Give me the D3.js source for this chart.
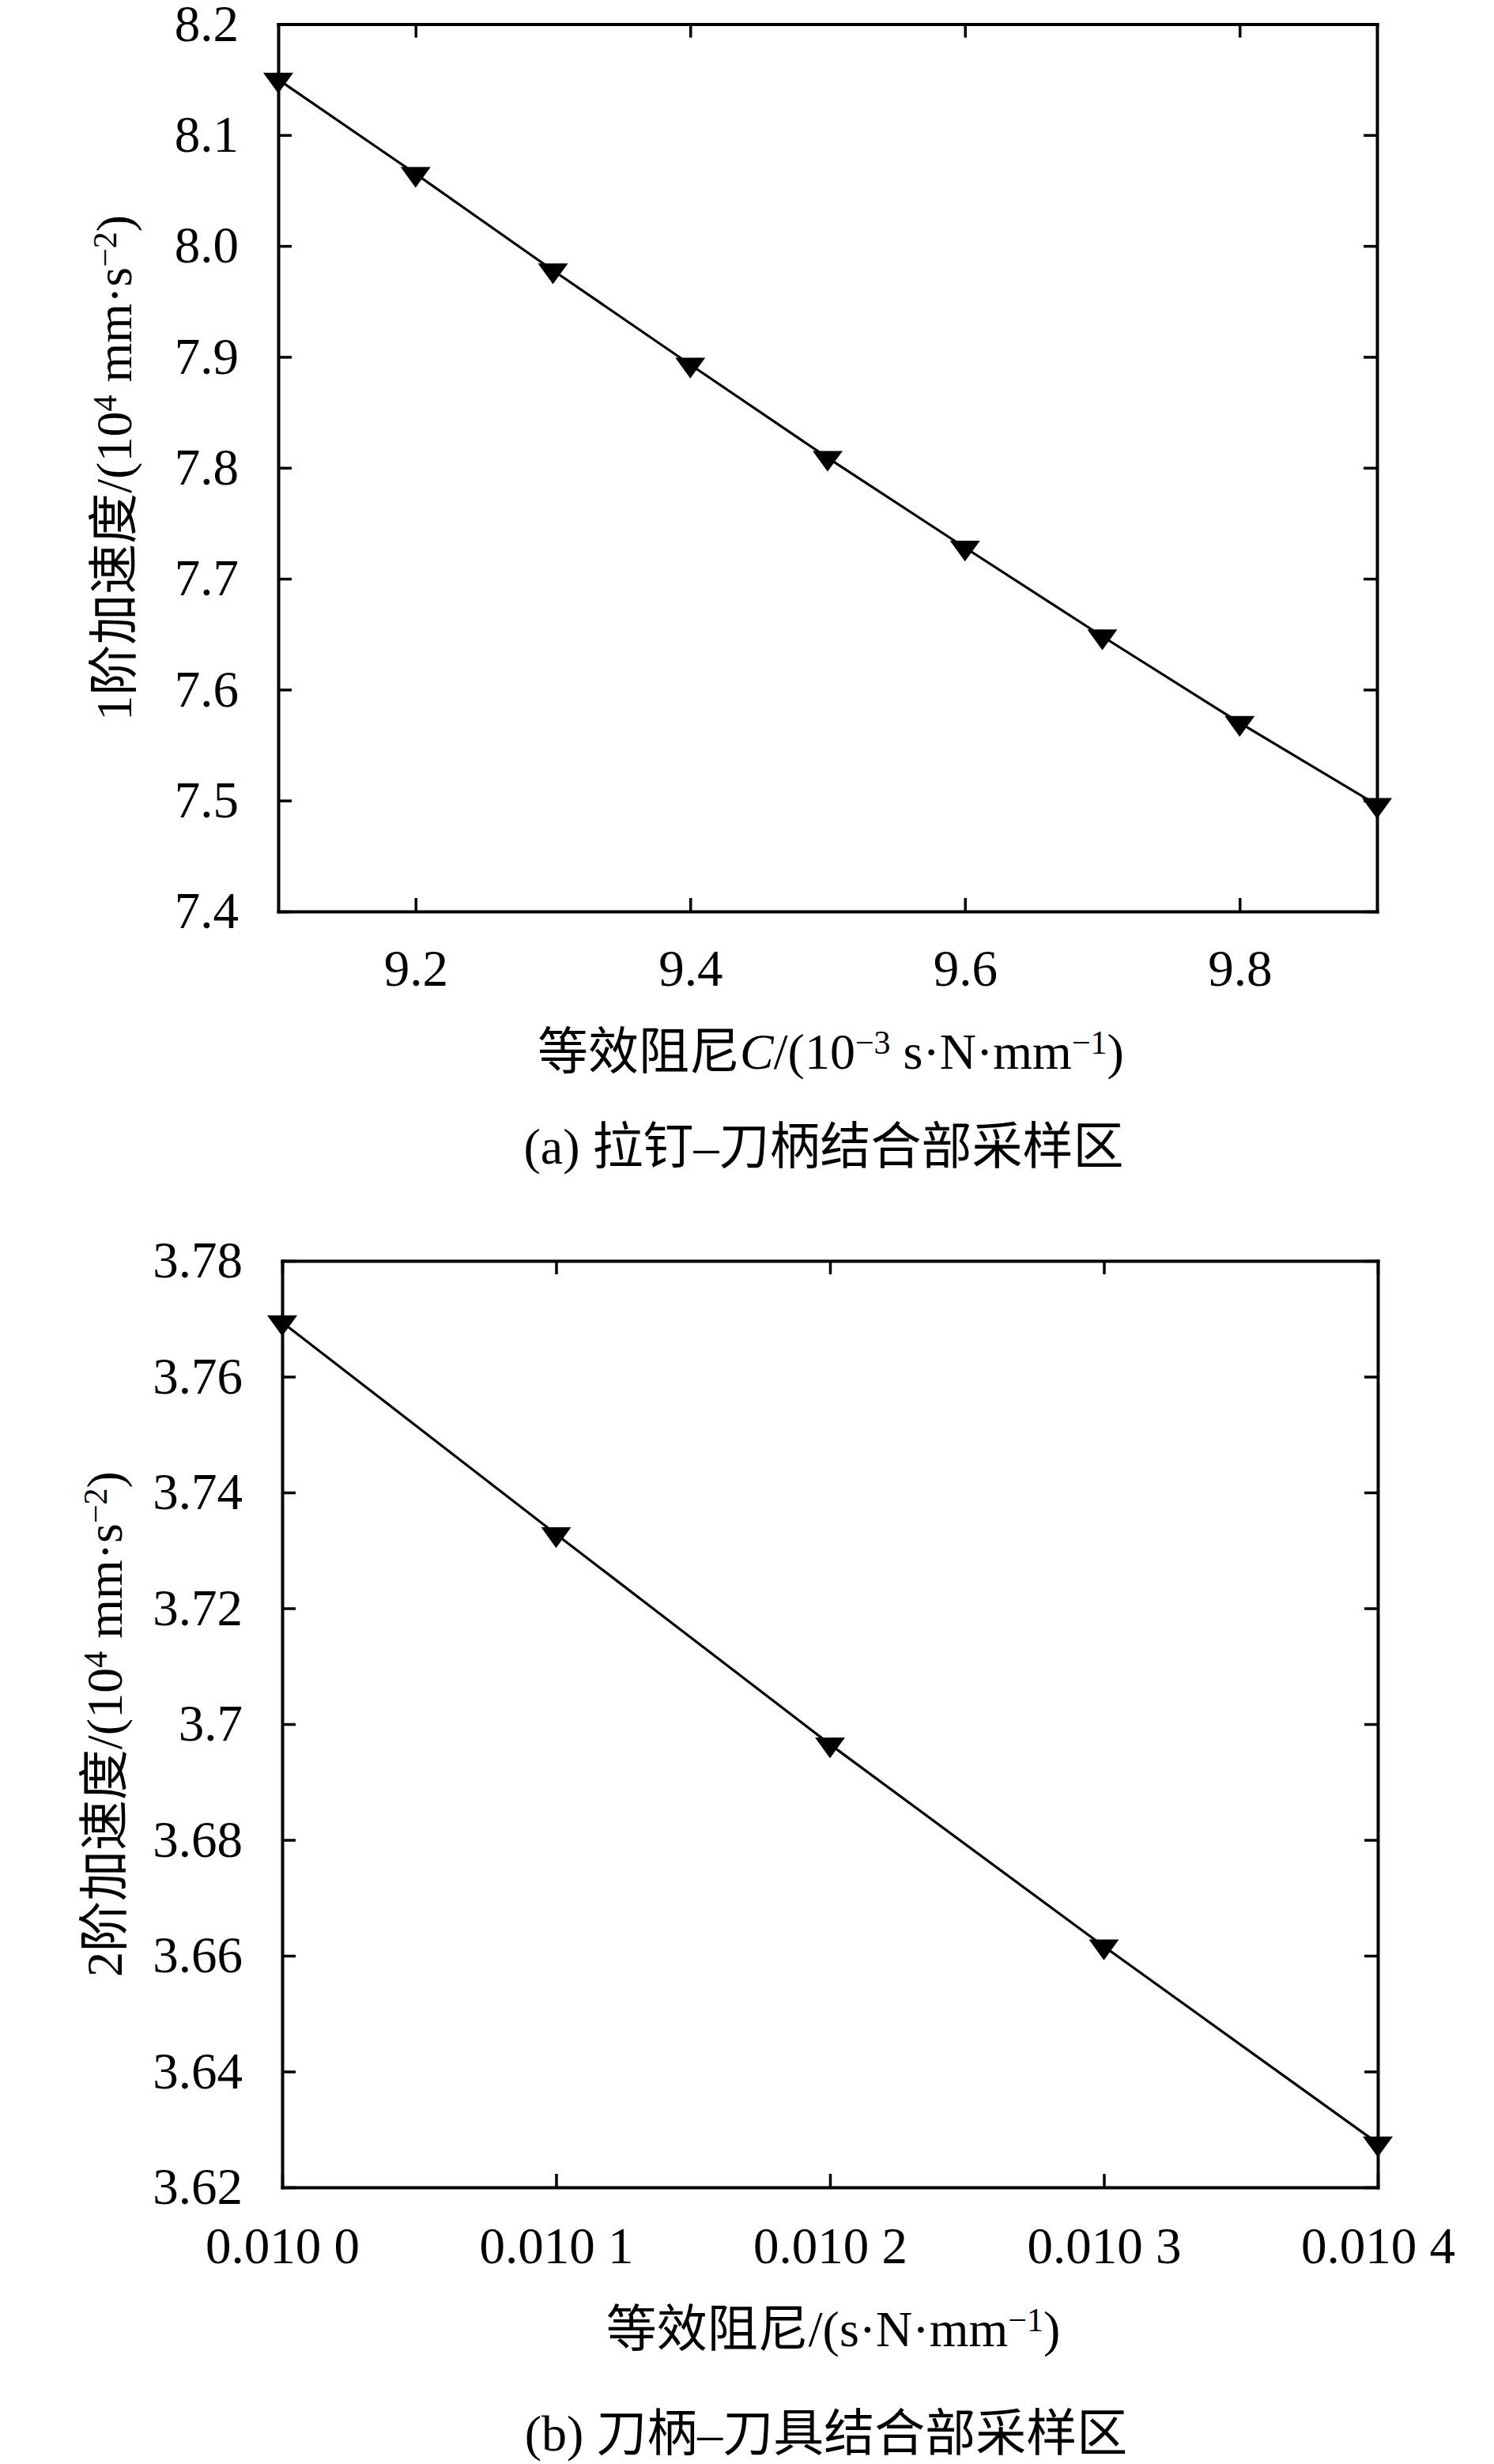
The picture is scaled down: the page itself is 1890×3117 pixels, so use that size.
<!DOCTYPE html>
<html>
<head>
<meta charset="utf-8">
<script src="https://cdn.jsdelivr.net/npm/d3@7"></script>
<style>
  body { margin: 0; background: #fff; }
  svg { display: block; }
  text { font-family: "Liberation Serif", "Noto Sans CJK SC", serif; fill: #000; }
</style>
</head>
<body>
<div id="chart"></div>
<script>
// (a) 拉钉-刀柄结合部采样区
const dampA = [9.1, 9.2, 9.3, 9.4, 9.5, 9.6, 9.7, 9.8, 9.9];
const accelA = [8.150, 8.065, 7.978, 7.893, 7.809, 7.728, 7.648, 7.570, 7.496];
const xTicksA = [9.2, 9.4, 9.6, 9.8];
const xTickLabelsA = ['9.2', '9.4', '9.6', '9.8'];
const yTicksA = [7.4, 7.5, 7.6, 7.7, 7.8, 7.9, 8.0, 8.1, 8.2];
const yTickLabelsA = ['7.4', '7.5', '7.6', '7.7', '7.8', '7.9', '8.0', '8.1', '8.2'];

// (b) 刀柄-刀具结合部采样区
const dampB = [0.0100, 0.0101, 0.0102, 0.0103, 0.0104];
const accelB = [3.7694, 3.7328, 3.6965, 3.6616, 3.6276];
const xTicksB = [0.0100, 0.0101, 0.0102, 0.0103, 0.0104];
const xTickLabelsB = ['0.010 0', '0.010 1', '0.010 2', '0.010 3', '0.010 4'];
const yTicksB = [3.62, 3.64, 3.66, 3.68, 3.70, 3.72, 3.74, 3.76, 3.78];
const yTickLabelsB = ['3.62', '3.64', '3.66', '3.68', '3.7', '3.72', '3.74', '3.76', '3.78'];

const svg = d3.select('#chart').append('svg')
    .attr('width', 1890)
    .attr('height', 3117);

// hàm phụ: thêm chữ có chỉ số trên
function richText(sel, parts) {
    parts.forEach(p => {
        const t = sel.append('tspan').text(p.t);
        if (p.sup) t.attr('baseline-shift', '45%').attr('font-size', 42);
        if (p.it) t.attr('font-style', 'italic');
    });
}

function drawPanel(cfg) {
    const x = d3.scaleLinear().domain(cfg.xDomain).range([cfg.left, cfg.right]);
    const y = d3.scaleLinear().domain(cfg.yDomain).range([cfg.bottom, cfg.top]);
    const g = svg.append('g');

    // trục trái có nhãn
    const yl = g.append('g')
        .attr('transform', `translate(${cfg.left},0)`)
        .call(d3.axisLeft(y).tickValues(cfg.yTicks)
            .tickFormat((d, i) => cfg.yLabels[i])
            .tickSizeInner(-17).tickSizeOuter(0).tickPadding(50));
    yl.selectAll('text').attr('font-size', 65).attr('font-family', null);

    // trục phải, trên (chỉ vạch)
    g.append('g')
        .attr('transform', `translate(${cfg.right},0)`)
        .call(d3.axisRight(y).tickValues(cfg.yTicks).tickFormat('')
            .tickSizeInner(-17).tickSizeOuter(0));
    g.append('g')
        .attr('transform', `translate(0,${cfg.top})`)
        .call(d3.axisTop(x).tickValues(cfg.xTicks).tickFormat('')
            .tickSizeInner(-17).tickSizeOuter(0));

    // trục dưới có nhãn
    const xl = g.append('g')
        .attr('transform', `translate(0,${cfg.bottom})`)
        .call(d3.axisBottom(x).tickValues(cfg.xTicks)
            .tickFormat((d, i) => cfg.xLabels[i])
            .tickSizeInner(-17).tickSizeOuter(0));
    xl.selectAll('text').attr('font-size', 65).attr('font-family', null)
        .attr('y', cfg.xLabelGap).attr('dy', 0);

    g.selectAll('.domain').attr('stroke', '#000').attr('stroke-width', 4).attr('stroke-linecap', 'square');
    g.selectAll('.tick line').attr('stroke', '#000').attr('stroke-width', 3.5);

    // đường dữ liệu
    const pts = cfg.xs.map((v, i) => [v, cfg.ys[i]]);
    g.append('path')
        .datum(pts)
        .attr('fill', 'none')
        .attr('stroke', '#000')
        .attr('stroke-width', 3.2)
        .attr('d', d3.line().x(d => x(d[0])).y(d => y(d[1])));

    // ký hiệu tam giác úp
    g.append('g').selectAll('path')
        .data(pts)
        .enter().append('path')
        .attr('transform', d => `translate(${x(d[0])},${y(d[1])})`)
        .attr('d', 'M-19,-8.7L19,-8.7L0,17.5Z')
        .attr('fill', '#000');

    // nhãn trục x
    const cx = (cfg.left + cfg.right) / 2;
    const tx = g.append('text')
        .attr('x', cx + 4).attr('y', cfg.xTitleY)
        .attr('text-anchor', 'middle').attr('font-size', 64);
    richText(tx, cfg.xTitle);

    // nhãn trục y
    const cy = (cfg.top + cfg.bottom) / 2;
    const ty = g.append('text')
        .attr('transform', `translate(${cfg.yTitleX},${cy}) rotate(-90)`)
        .attr('text-anchor', 'middle').attr('font-size', 64);
    richText(ty, cfg.yTitle);

    // chú thích hình con
    g.append('text')
        .attr('x', cx - 5).attr('y', cfg.captionY)
        .attr('text-anchor', 'middle').attr('font-size', 64)
        .text(cfg.caption);
}

drawPanel({
    xs: dampA, ys: accelA,
    xDomain: [9.1, 9.9], yDomain: [7.4, 8.2],
    xTicks: xTicksA, xLabels: xTickLabelsA,
    yTicks: yTicksA, yLabels: yTickLabelsA,
    left: 352, right: 1742, top: 30.5, bottom: 1153,
    xLabelGap: 94, xTitleY: 1352, yTitleX: 166, captionY: 1472,
    xTitle: [{t: '等效阻尼'}, {t: 'C', it: true}, {t: '/(10'}, {t: '−3', sup: true},
             {t: ' s·N·mm'}, {t: '−1', sup: true}, {t: ')'}],
    yTitle: [{t: '1阶加速度/(10'}, {t: '4', sup: true}, {t: ' mm·s'}, {t: '−2', sup: true}, {t: ')'}],
    caption: '(a) 拉钉–刀柄结合部采样区'
});

drawPanel({
    xs: dampB, ys: accelB,
    xDomain: [0.0100, 0.0104], yDomain: [3.62, 3.78],
    xTicks: xTicksB, xLabels: xTickLabelsB,
    yTicks: yTicksB, yLabels: yTickLabelsB,
    left: 357, right: 1743, top: 1595, bottom: 2767,
    xLabelGap: 96, xTitleY: 2968, yTitleX: 154, captionY: 3100,
    xTitle: [{t: '等效阻尼/(s·N·mm'}, {t: '−1', sup: true}, {t: ')'}],
    yTitle: [{t: '2阶加速度/(10'}, {t: '4', sup: true}, {t: ' mm·s'}, {t: '−2', sup: true}, {t: ')'}],
    caption: '(b) 刀柄–刀具结合部采样区'
});
</script>
</body>
</html>
